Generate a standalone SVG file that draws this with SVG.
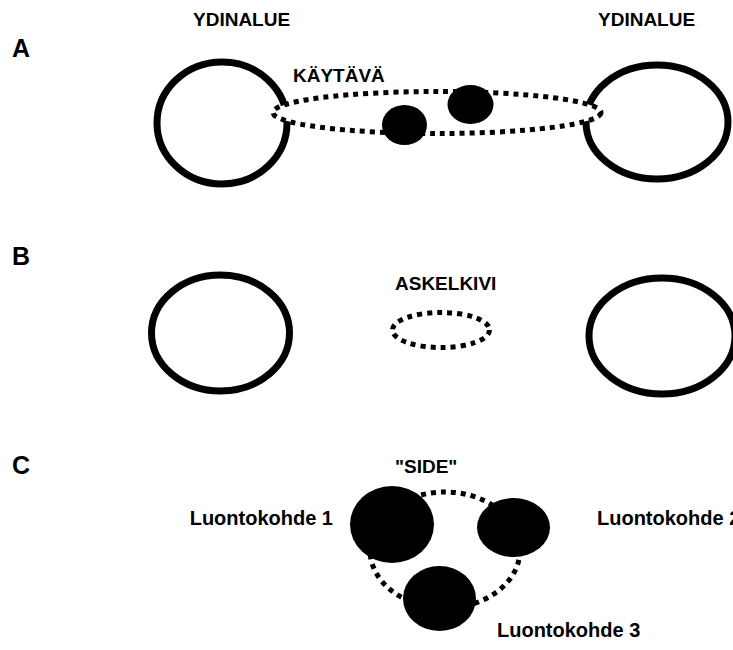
<svg xmlns="http://www.w3.org/2000/svg" width="733" height="650" viewBox="0 0 733 650">
<style>
text{font-family:"Liberation Sans",Arial,sans-serif;font-weight:bold;fill:#000}
.lbl{font-size:19px}
.site{font-size:20px}
.big{font-size:25px}
.core{fill:none;stroke:#000;stroke-width:7}
.dash{stroke:#000;stroke-width:5;stroke-dasharray:5 5}
.dot{fill:#000}
</style>
<rect width="733" height="650" fill="#fff"/>
<g id="labels">
<text class="big" x="12" y="57">A</text>
<text class="big" x="12" y="265">B</text>
<text class="big" x="12" y="474">C</text>
</g>
<!-- Row A -->
<g id="core-a-left"><ellipse class="core" cx="222" cy="123" rx="65" ry="61"/><text class="lbl" x="193" y="26">YDINALUE</text></g>
<g id="core-a-right"><ellipse class="core" cx="657" cy="122" rx="71" ry="57"/><text class="lbl" x="598" y="26">YDINALUE</text></g>
<g id="connectors">
<ellipse id="corridor" class="dash" fill="#fff" cx="437" cy="112.5" rx="164" ry="21"/>
<ellipse id="side-ring" class="dash" fill="none" cx="445" cy="550" rx="75" ry="58"/>
</g>
<g id="corridor-label"><text class="lbl" x="293" y="82">KÄYTÄVÄ</text></g>
<g id="patch-a1"><ellipse class="dot" cx="404.5" cy="125" rx="22.5" ry="20"/></g>
<g id="patch-a2"><ellipse class="dot" cx="470.5" cy="104.5" rx="23" ry="19.5"/></g>
<!-- Row B -->
<g id="core-b-left"><ellipse class="core" cx="220.5" cy="333" rx="69" ry="58"/></g>
<g id="stepping-stone"><ellipse class="dash" fill="none" cx="441" cy="330" rx="48.5" ry="17.5"/><text class="lbl" x="395" y="290">ASKELKIVI</text></g>
<g id="core-b-right"><ellipse class="core" cx="662" cy="336" rx="73" ry="58"/></g>
<!-- Row C -->
<g id="side-label"><text class="lbl" x="395" y="473">"SIDE"</text></g>
<g id="site-1"><ellipse class="dot" cx="392" cy="524.5" rx="42" ry="38.5"/><text class="site" x="333" y="525" text-anchor="end">Luontokohde 1</text></g>
<g id="site-2"><ellipse class="dot" cx="513.5" cy="527.5" rx="36.5" ry="29.5"/><text class="site" x="597" y="525">Luontokohde 2</text></g>
<g id="site-3"><ellipse class="dot" cx="439.5" cy="598.5" rx="36.5" ry="32.5"/><text class="site" x="497" y="637">Luontokohde 3</text></g>
</svg>
